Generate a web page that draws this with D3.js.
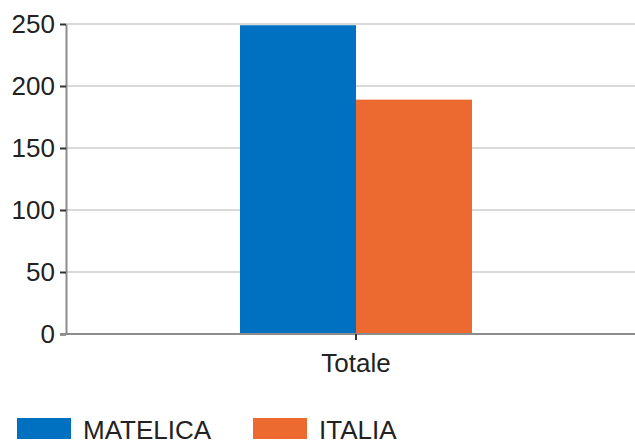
<!DOCTYPE html>
<html>
<head>
<meta charset="utf-8">
<script src="https://cdn.jsdelivr.net/npm/d3@7"></script>
<style>
  html, body { margin: 0; padding: 0; background: #fff; }
  svg { display: block; font-family: "Liberation Sans", Arial, sans-serif; }
</style>
</head>
<body>
<svg id="chart" width="635" height="446"></svg>
<script>
const categories = ["Totale"];
const seriesNames = ["MATELICA", "ITALIA"];
const seriesColors = ["#0070C0", "#EC6A2F"];
const matelicaValues = [249];
const italiaValues = [189];
const yTicks = [0, 50, 100, 150, 200, 250];

const svg = d3.select("#chart");
const mLeft = 66, mRight = 646, mTop = 24, mBottom = 334;
const fontSize = 26;

const x = d3.scaleBand().domain(categories).range([mLeft, mRight]).paddingInner(0).paddingOuter(0.75);
const xs = d3.scaleBand().domain(seriesNames).range([0, x.bandwidth()]).padding(0);
const y = d3.scaleLinear().domain([0, 250]).range([mBottom, mTop]);

// gridlines
svg.append("g").selectAll("line").data(yTicks.filter(d => d > 0)).join("line")
  .attr("x1", mLeft).attr("x2", 635)
  .attr("y1", d => y(d)).attr("y2", d => y(d))
  .attr("stroke", "#d9d9d9").attr("stroke-width", 2);

// bars
const series = [matelicaValues, italiaValues];
const g = svg.append("g");
categories.forEach((c, ci) => {
  seriesNames.forEach((s, si) => {
    g.append("rect")
      .attr("x", x(c) + xs(s))
      .attr("y", y(series[si][ci]))
      .attr("width", xs.bandwidth())
      .attr("height", y(0) - y(series[si][ci]))
      .attr("fill", seriesColors[si]);
  });
});

// y axis
const yAxis = d3.axisLeft(y).tickValues(yTicks).tickSize(6).tickPadding(5).tickSizeOuter(0);
const ya = svg.append("g").attr("transform", `translate(${mLeft},0)`).call(yAxis);
ya.select(".domain").attr("stroke", "#8c8c8c").attr("stroke-width", 2);
ya.selectAll(".tick line").attr("stroke", "#333").attr("stroke-width", 2);
ya.selectAll(".tick text").attr("font-size", fontSize).attr("fill", "#222")
  .attr("font-family", "Liberation Sans, Arial, sans-serif").attr("dy", "0.34em");

// x axis
const xAxis = d3.axisBottom(x).tickSize(6).tickPadding(14).tickSizeOuter(0);
const xa = svg.append("g").attr("transform", `translate(0,${mBottom})`).call(xAxis);
xa.select(".domain").attr("stroke", "#8c8c8c").attr("stroke-width", 2).attr("d", `M${mLeft - 6},0H635`);
xa.selectAll(".tick line").attr("stroke", "#333").attr("stroke-width", 2);
xa.selectAll(".tick text").attr("font-size", fontSize).attr("fill", "#222")
  .attr("font-family", "Liberation Sans, Arial, sans-serif");

// legend
const legendX = [17, 253];
const lg = svg.append("g");
seriesNames.forEach((s, i) => {
  lg.append("rect").attr("x", legendX[i]).attr("y", 418).attr("width", 54).attr("height", 21)
    .attr("fill", seriesColors[i]);
  lg.append("text").attr("x", legendX[i] + 66).attr("y", 439)
    .attr("font-size", fontSize).attr("fill", "#222").text(s);
});
</script>
</body>
</html>
